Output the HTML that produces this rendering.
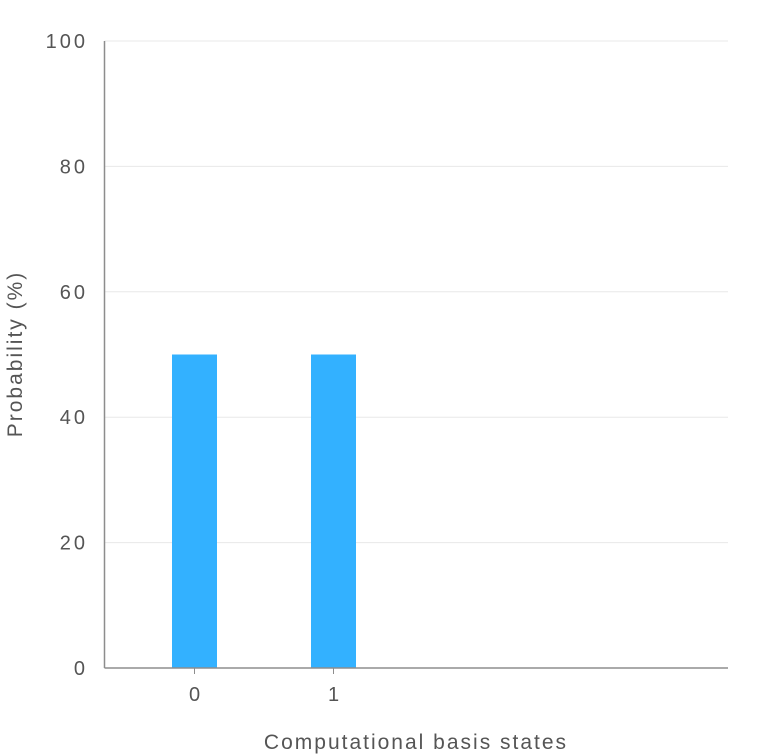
<!DOCTYPE html>
<html><head><meta charset="utf-8"><style>
html,body{margin:0;padding:0;background:#fff;width:768px;height:756px;overflow:hidden}
svg text{font-family:"Liberation Sans",sans-serif;fill:#555}
</style></head><body>
<svg id="chart" width="768" height="756" xmlns="http://www.w3.org/2000/svg"></svg>
<script>
const categories = ["0", "1"];
const values = [50, 50];
const yTicks = [0, 20, 40, 60, 80, 100];
const yMax = 100;

const NS = "http://www.w3.org/2000/svg";
const svg = document.getElementById("chart");
const x0 = 104.5, x1 = 728, yTop = 41, yBot = 668;
const yScale = v => yBot - (v / yMax) * (yBot - yTop);
const xScale = i => 194.5 + i * 139;
const barW = 45;
function mk(tag, attrs, parent) {
  const e = document.createElementNS(NS, tag);
  for (const k in attrs) e.setAttribute(k, attrs[k]);
  (parent || svg).appendChild(e);
  return e;
}
const grid = mk("g", {});


yTicks.forEach(t => {
  const y = yScale(t);
  if (t > 0) {
    const l = mk("line", {x1: x0, x2: x1, y1: y, y2: y, stroke: "#e8e8e8", "stroke-width": 1}, grid);
    
    
  }
  const tx = mk("text", {x: 88, y: y + 7, "text-anchor": "end", "font-size": 20, "letter-spacing": 3});
  
  
  tx.textContent = t;
});
categories.forEach((c, i) => {
  const cx = xScale(i);
  const r = mk("rect", {x: cx - barW / 2, y: yScale(values[i]), width: barW, height: yBot - yScale(values[i]), fill: "#33b1ff"});
  
  
  const tk = mk("line", {x1: cx, x2: cx, y1: yBot, y2: yBot + 6, stroke: "#8d8d8d"});
  
  
  const tx = mk("text", {x: cx, y: 701, "text-anchor": "middle", "font-size": 20});
  
  
  tx.textContent = c;
});
const ya = mk("line", {x1: x0, x2: x0, y1: yTop, y2: yBot, stroke: "#8d8d8d", "stroke-width": 1.5});


const xa = mk("line", {x1: x0, x2: x1, y1: yBot, y2: yBot, stroke: "#8d8d8d", "stroke-width": 1.5});


const xt = mk("text", {x: 416, y: 749, "text-anchor": "middle", "font-size": 21, "letter-spacing": 2, fill: "#333"});


xt.textContent = "Computational basis states";
const yt = mk("text", {x: 0, y: 0, "text-anchor": "middle", "font-size": 21, "letter-spacing": 2, transform: "translate(22,354) rotate(-90)"});


yt.textContent = "Probability (%)";
</script>
</body></html>
